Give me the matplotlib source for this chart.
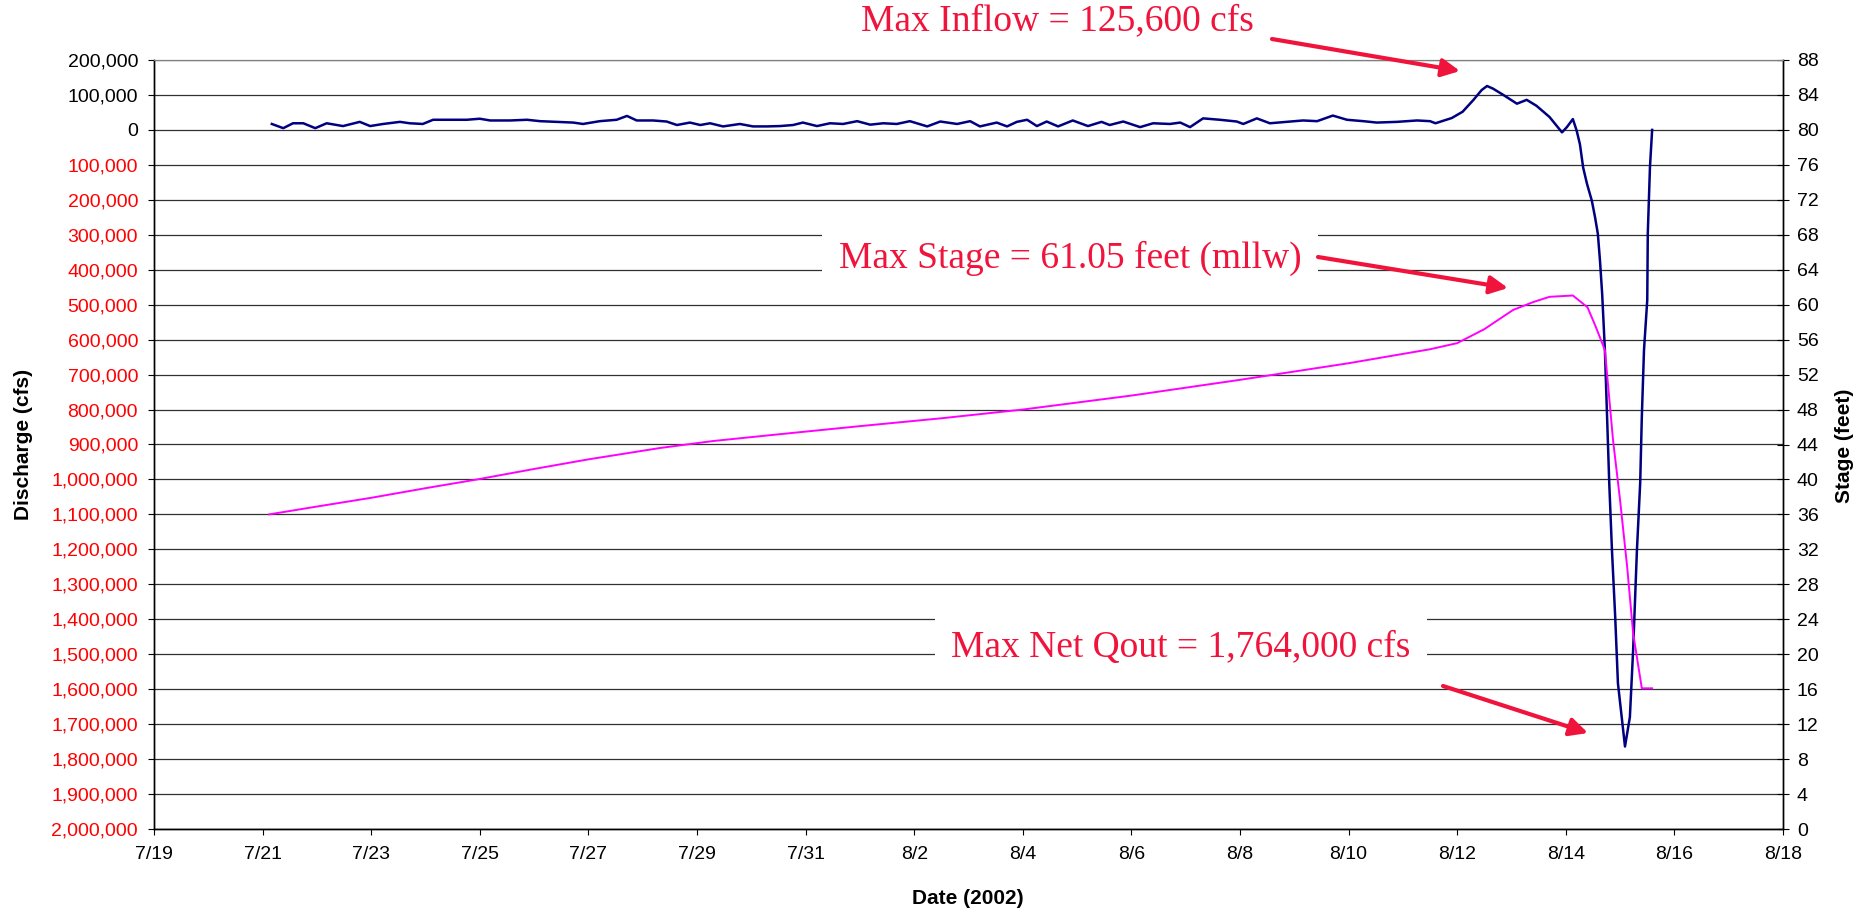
import matplotlib
matplotlib.use("Agg")
import matplotlib.pyplot as plt
import pandas as pd
from matplotlib.ticker import FuncFormatter
import matplotlib.dates as mdates

W, H = 1861, 909
START = pd.Timestamp("2002-07-19")

# discharge: days after 7/19 00:00, thousands of cfs (negative = net outflow)
flow_day = [
    2.17, 2.38, 2.56, 2.75, 2.97, 3.18, 3.48, 3.79, 3.98, 4.22, 4.53, 4.71, 4.95,
    5.14, 5.45, 5.76, 6.00, 6.19, 6.56, 6.87, 7.11, 7.42, 7.72, 7.90, 8.21, 8.52,
    8.71, 8.89, 9.19, 9.44, 9.63, 9.87, 10.06, 10.24, 10.48, 10.79, 11.03, 11.29,
    11.53, 11.77, 11.95, 12.21, 12.45, 12.69, 12.95, 13.19, 13.43, 13.68, 13.92,
    14.24, 14.48, 14.79, 15.03, 15.21, 15.52, 15.71, 15.89, 16.08, 16.26, 16.44,
    16.65, 16.92, 17.20, 17.45, 17.60, 17.85, 18.16, 18.40, 18.71, 18.90, 19.08,
    19.32, 19.63, 19.94, 20.06, 20.31, 20.55, 20.86, 21.16, 21.42, 21.71, 21.97,
    22.27, 22.52, 22.89, 23.26, 23.50, 23.60, 23.90, 24.10, 24.30, 24.45, 24.55,
    24.66, 24.85, 25.10, 25.28, 25.46, 25.70, 25.93, 26.02, 26.13, 26.20, 26.26,
    26.32, 26.39, 26.48, 26.54, 26.59, 26.63, 26.67, 26.72, 26.76, 26.80, 26.85,
    26.91, 26.96, 27.03, 27.09, 27.18, 27.24, 27.31, 27.37, 27.40, 27.44, 27.50,
    27.51, 27.55, 27.59,
]
flow_kcfs = [
    17, 5, 19, 19, 5, 19, 11, 23, 11, 17, 23, 19, 17,
    29, 29, 29, 32, 27, 27, 29, 25, 23, 21, 17, 25, 29,
    40, 27, 27, 24, 14, 21, 14, 19, 10, 17, 10, 10,
    11, 14, 21, 11, 19, 17, 25, 15, 19, 17, 25,
    10, 24, 17, 25, 10, 21, 10, 23, 29, 11, 24,
    10, 27, 11, 23, 14, 24, 8, 19, 17, 21, 8,
    33, 29, 24, 17, 33, 19, 23, 27, 25, 41, 29,
    25, 21, 23, 27, 25, 19, 34, 52, 86, 114, 125.6,
    118, 100, 75, 86, 69, 37, -7, 8, 31, -2, -41,
    -108, -154, -203, -251, -297, -375, -470, -630, -821, -1010, -1202,
    -1394, -1583, -1680, -1764, -1680, -1488, -1202, -1010, -821, -630, -487,
    -296, -106, 0,
]

# reservoir stage: days after 7/19 00:00, feet (mllw)
stage_day = [
    2.12, 3.0, 4.0, 5.0, 5.95, 7.0, 8.0, 9.32, 10.3, 11.4, 13.0, 14.5, 16.0,
    18.0, 20.0, 22.0, 23.5, 24.0, 24.5, 25.03, 25.4, 25.7, 26.13, 26.4, 26.55,
    26.72, 26.87, 27.0, 27.13, 27.24, 27.4, 27.59,
]
stage_ft = [
    36.0, 36.9, 37.9, 39.0, 40.0, 41.2, 42.3, 43.6, 44.4, 45.1, 46.1, 47.0, 48.0,
    49.6, 51.4, 53.3, 54.9, 55.6, 57.2, 59.4, 60.3, 60.9, 61.05, 59.7, 57.5,
    54.8, 44.5, 37.6, 30.0, 22.4, 16.1, 16.1,
]

discharge_ticks = list(range(-2_000_000, 200_001, 100_000))
stage_ticks = list(range(0, 89, 4))
date_ticks = pd.date_range("2002-07-19", "2002-08-18", freq="2D")

BLUE = "#000080"
MAGENTA = "#FF00FF"
NOTE = "#F0143C"


def to_dates(days):
    return START + pd.to_timedelta(days, unit="D")


def fig_px(x, y):
    return x / W, 1 - y / H


plt.rcParams["font.family"] = ["Liberation Sans", "DejaVu Sans"]

fig = plt.figure(figsize=(W / 100, H / 100), dpi=100)
ax = fig.add_axes([154 / W, 1 - 829 / H, (1783 - 154) / W, (829 - 60) / H])
ax2 = ax.twinx()

ax.plot(to_dates(flow_day), [v * 1000 for v in flow_kcfs], color=BLUE, lw=1.8, zorder=3)
ax2.plot(to_dates(stage_day), stage_ft, color=MAGENTA, lw=1.4, zorder=3)

ax.set_xlim(date_ticks[0], date_ticks[-1])
ax.set_xticks(date_ticks)
ax.xaxis.set_major_formatter(
    FuncFormatter(lambda x, pos: f"{mdates.num2date(x).month}/{mdates.num2date(x).day}")
)

ax.set_ylim(-2_000_000, 200_000)
ax.set_yticks(discharge_ticks)
ax.set_yticklabels([f"{abs(v):,}" for v in discharge_ticks])
for lab, v in zip(ax.get_yticklabels(), discharge_ticks):
    lab.set_color("#FF0000" if v < 0 else "black")

ax2.set_ylim(0, 88)
ax2.set_yticks(stage_ticks)

ax.grid(axis="y", color="#303030", lw=0.9)
ax.set_axisbelow(True)

for a in (ax, ax2):
    a.spines["top"].set_color("#808080")
    for s in ("left", "right", "bottom"):
        a.spines[s].set_color("black")
        a.spines[s].set_linewidth(1.0)

ax.tick_params(axis="y", direction="out", length=4.5, pad=7, labelsize=14)
ax.tick_params(axis="x", direction="out", length=4, pad=8, labelsize=14)
ax2.tick_params(axis="y", direction="inout", length=8, pad=6, labelsize=14)

fig.text(*fig_px(968, 898), "Date (2002)", ha="center", va="center",
         fontsize=15, fontweight="bold")
fig.text(*fig_px(24, 444), "Discharge (cfs)", ha="center", va="center",
         rotation=90, fontsize=15, fontweight="bold")
fig.text(*fig_px(1845, 446), "Stage (feet)", ha="center", va="center",
         rotation=90, fontsize=15, fontweight="bold")

notes = [
    ("Max Inflow = 125,600 cfs", (1057, 21), (1272, 39), (1460, 71)),
    ("Max Stage = 61.05 feet (mllw)", (1070, 258), (1318, 257), (1508, 288)),
    ("Max Net Qout = 1,764,000 cfs", (1181, 648), (1443, 686), (1588, 733)),
]
for text, pos, tail, tip in notes:
    fig.text(*fig_px(*pos), text, ha="center", va="center", fontsize=27,
             family=["Liberation Serif", "DejaVu Serif"], color=NOTE,
             bbox=dict(facecolor="white", edgecolor="none", pad=12), zorder=5)
    fig.add_artist(matplotlib.patches.FancyArrowPatch(
        fig_px(*tail), fig_px(*tip), transform=fig.transFigure,
        arrowstyle="-|>", mutation_scale=27, color=NOTE, lw=3.0,
        shrinkA=0, shrinkB=0, zorder=6))

fig.savefig("out.png", dpi=100, facecolor="white")
